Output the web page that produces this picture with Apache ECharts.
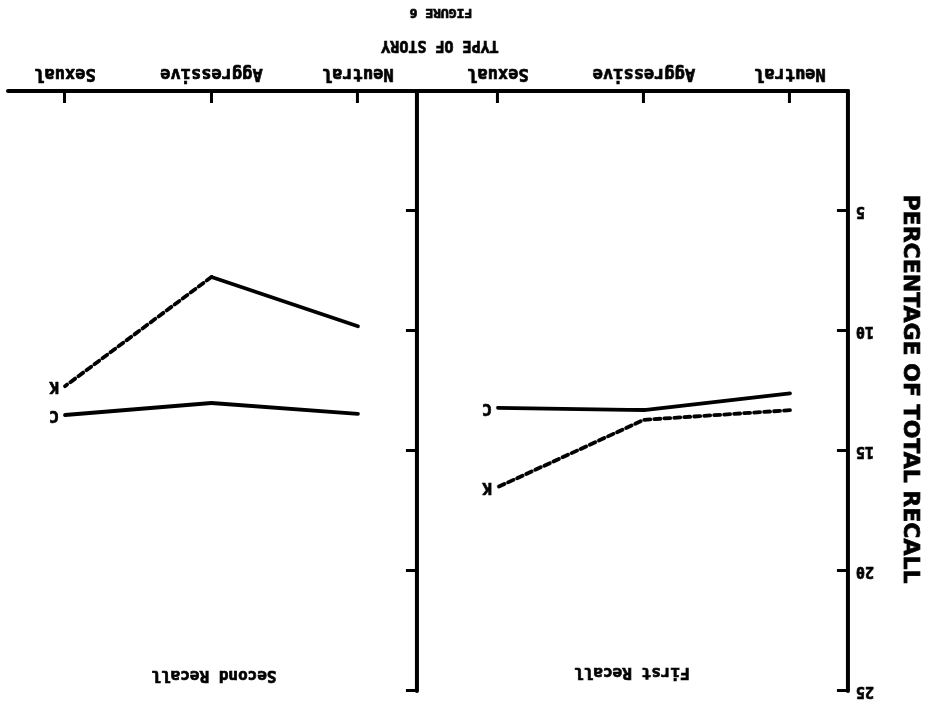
<!DOCTYPE html>
<html>
<head>
<meta charset="utf-8">
<script src="https://cdn.jsdelivr.net/npm/echarts@6/dist/echarts.min.js"></script>
<style>
  html, body { margin: 0; padding: 0; background: #fff; }
  /* the figure page is mounted upside down */
  #chart { width: 927px; height: 702px; transform: rotate(180deg); }
</style>
</head>
<body>
<div id="chart"></div>
<script>
// Story categories along the horizontal axis
const storyTypes = ['Neutral', 'Aggressive', 'Sexual'];
// Percentage axis ticks
const percentTicks = [0, 5, 10, 15, 20, 25];
// Percentage of total recall, per story type (Neutral, Aggressive, Sexual)
const firstRecallC = [12.6, 13.3, 13.2];
const firstRecallK = [13.3, 13.7, 16.5];
const secondRecallC = [13.45, 13.0, 13.5];
const secondRecallK = [9.8, 7.75, 12.3];
const panelTitles = ['First Recall', 'Second Recall'];
const groupNames = ['C', 'K'];

const INK = '#000';
const MONO = '"DejaVu Sans Mono", monospace';
const SANS = '"DejaVu Sans", sans-serif';
// heavy lettering: bold glyphs with a thin outline in the same ink
const HEAVY = { textBorderColor: INK, textBorderWidth: 0.7 };

const toPoints = (arr, from, to) =>
  arr.map((v, i) => [i, v]).slice(from, to);

function xAxisFor(gridIndex, min, max) {
  return {
    gridIndex, type: 'value', min, max,
    axisLine: { show: true, onZero: false, lineStyle: { color: INK, width: 4 } },
    axisTick: { show: true, inside: true, length: 12, customValues: [0, 1, 2],
                lineStyle: { color: INK, width: 3 } },
    axisLabel: Object.assign({ show: true, customValues: [0, 1, 2], margin: 9,
                 formatter: v => storyTypes[Math.round(v)],
                 color: INK, fontFamily: MONO, fontWeight: 'bold', fontSize: 17 }, HEAVY),
    splitLine: { show: false }
  };
}

function yAxisFor(gridIndex, showLabels) {
  return {
    gridIndex, type: 'value',
    min: percentTicks[0], max: percentTicks[percentTicks.length - 1],
    interval: percentTicks[1] - percentTicks[0],
    axisLine: { show: true, onZero: false, lineStyle: { color: INK, width: 4 } },
    axisTick: { show: true, inside: true, length: 11, lineStyle: { color: INK, width: 3 } },
    axisLabel: Object.assign({ show: showLabels, margin: 8,
                 formatter: v => (v === 0 ? '' : String(v)),
                 color: INK, fontFamily: MONO, fontWeight: 'bold', fontSize: 15 }, HEAVY),
    splitLine: { show: false }
  };
}

function lineSeries(idx, points, dashed, endName) {
  const s = {
    type: 'line', xAxisIndex: idx, yAxisIndex: idx,
    data: points, symbol: 'none', silent: true, animation: false,
    lineStyle: { color: INK, width: 3.8, type: dashed ? [6, 4] : 'solid', cap: 'round' }
  };
  if (endName) {
    s.endLabel = Object.assign({ show: true, formatter: endName, distance: 6,
                   color: INK, fontFamily: MONO, fontWeight: 'bold', fontSize: 16 }, HEAVY);
  }
  return s;
}

function textItem(x, y, text, font, extra) {
  return Object.assign({
    type: 'text', x, y,
    style: Object.assign({ text, fill: INK, font, textAlign: 'center',
                           textVerticalAlign: 'middle', stroke: INK, lineWidth: 0.7 })
  }, extra || {});
}

const chart = echarts.init(document.getElementById('chart'), null, { renderer: 'canvas' });

chart.setOption({
  backgroundColor: '#fff',
  animation: false,
  grid: [
    { left: 79, right: 417, top: 11, bottom: 91 },
    { left: 510, right: 8, top: 11, bottom: 91 }
  ],
  xAxis: [ xAxisFor(0, -0.397, 2.555), xAxisFor(1, -0.403, 2.389) ],
  yAxis: [ yAxisFor(0, true), yAxisFor(1, false) ],
  series: [
    lineSeries(0, toPoints(firstRecallC, 0, 3), false, groupNames[0]),
    lineSeries(0, toPoints(firstRecallK, 0, 3), true, groupNames[1]),
    lineSeries(1, toPoints(secondRecallC, 0, 3), false, groupNames[0]),
    // second-recall K: solid from Neutral to Aggressive, dashed on to Sexual
    lineSeries(1, toPoints(secondRecallK, 0, 2), false, null),
    lineSeries(1, toPoints(secondRecallK, 1, 3), true, groupNames[1])
  ],
  graphic: [
    textItem(295, 30, panelTitles[0], 'bold 16px ' + MONO),
    textItem(713, 27, panelTitles[1], 'bold 16px ' + MONO),
    textItem(487, 657, 'TYPE OF STORY', 'bold 15px ' + MONO),
    textItem(486, 690, 'FIGURE 6', 'bold 13px ' + MONO),
    textItem(17, 313, 'PERCENTAGE OF TOTAL RECALL', 'bold 22px ' + SANS,
             { rotation: Math.PI / 2 })
  ]
});
</script>
</body>
</html>
